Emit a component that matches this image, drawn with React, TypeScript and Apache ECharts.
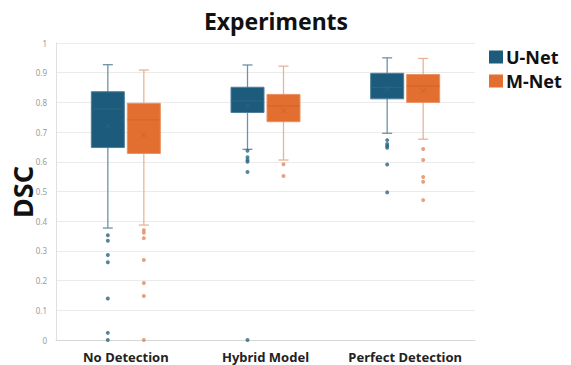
import React, { useEffect, useRef } from "react";
import * as echarts from "echarts";

const categories = ["No Detection", "Hybrid Model", "Perfect Detection"];
const seriesNames = ["U-Net", "M-Net"];

// [low whisker, Q1, median, Q3, high whisker]
const unetBox = [
  [0.377, 0.648, 0.778, 0.836, 0.927],
  [0.642, 0.766, 0.805, 0.851, 0.926],
  [0.696, 0.812, 0.85, 0.898, 0.95],
];
const unetMean = [0.72, 0.789, 0.847];
const mnetBox = [
  [0.387, 0.628, 0.741, 0.797, 0.909],
  [0.606, 0.735, 0.788, 0.827, 0.922],
  [0.676, 0.8, 0.855, 0.894, 0.948],
];
const mnetMean = [0.69, 0.772, 0.839];

const unetOutliers = [
  [0, 0.353], [0, 0.334], [0, 0.286], [0, 0.262], [0, 0.14], [0, 0.024], [0, 0],
  [1, 0.637], [1, 0.615], [1, 0.606], [1, 0.6], [1, 0.566], [1, 0],
  [2, 0.673], [2, 0.66], [2, 0.653], [2, 0.647], [2, 0.591], [2, 0.497],
];
const mnetOutliers = [
  [0, 0.37], [0, 0.361], [0, 0.343], [0, 0.269], [0, 0.192], [0, 0.148], [0, 0],
  [1, 0.592], [1, 0.552],
  [2, 0.643], [2, 0.606], [2, 0.549], [2, 0.533], [2, 0.471],
];

const FONT = "'Noto Sans', 'Open Sans', sans-serif";
const BLUE = "#1d5b7c";
const ORANGE = "#e26f30";

function makeRender(offset: number, fill: string, border: string, whisker: string, median: string) {
  return (params: any, api: any) => {
    const cat = api.value(0);
    const pLow = api.coord([cat, api.value(1)]);
    const pQ1 = api.coord([cat, api.value(2)]);
    const pMed = api.coord([cat, api.value(3)]);
    const pQ3 = api.coord([cat, api.value(4)]);
    const pHigh = api.coord([cat, api.value(5)]);
    const pMean = api.coord([cat, api.value(6)]);
    const x = pLow[0] + offset;
    const bw = 33;
    const cap = 5;
    const m = 2.5;
    return {
      type: "group",
      children: [
        { type: "line", shape: { x1: x, y1: pHigh[1], x2: x, y2: pLow[1] }, style: { stroke: whisker, lineWidth: 1.3 } },
        { type: "line", shape: { x1: x - cap, y1: pHigh[1], x2: x + cap, y2: pHigh[1] }, style: { stroke: whisker, lineWidth: 1.3 } },
        { type: "line", shape: { x1: x - cap, y1: pLow[1], x2: x + cap, y2: pLow[1] }, style: { stroke: whisker, lineWidth: 1.3 } },
        {
          type: "rect",
          shape: { x: x - bw / 2, y: pQ3[1], width: bw, height: pQ1[1] - pQ3[1] },
          style: { fill, stroke: border, lineWidth: 1 },
        },
        { type: "line", shape: { x1: x - bw / 2, y1: pMed[1], x2: x + bw / 2, y2: pMed[1] }, style: { stroke: median, lineWidth: 1 } },
        { type: "line", shape: { x1: x - m, y1: pMean[1] - m, x2: x + m, y2: pMean[1] + m }, style: { stroke: median, lineWidth: 1 } },
        { type: "line", shape: { x1: x - m, y1: pMean[1] + m, x2: x + m, y2: pMean[1] - m }, style: { stroke: median, lineWidth: 1 } },
      ],
    };
  };
}

function buildBoxData(box: number[][], mean: number[]) {
  return box.map((b, i) => [i, ...b, mean[i]]);
}

export default function App() {
  const ref = useRef<HTMLDivElement>(null);
  useEffect(() => {
    if (!ref.current) return;
    const chart = echarts.init(ref.current, null, { renderer: "svg" });
    chart.setOption({
      animation: false,
      backgroundColor: "#ffffff",
      graphic: [
        {
          type: "text",
          x: 276,
          y: 21,
          style: {
            text: "Experiments",
            textAlign: "center",
            textVerticalAlign: "middle",
            font: `bold 23px ${FONT}`,
            fill: "#111",
          },
        },
        {
          type: "text",
          x: 22,
          y: 192,
          rotation: Math.PI / 2,
          style: {
            text: "DSC",
            textAlign: "center",
            textVerticalAlign: "middle",
            font: `bold 27px ${FONT}`,
            fill: "#111",
          },
        },
      ],
      legend: {
        orient: "vertical",
        left: 489,
        top: 48,
        itemWidth: 14,
        itemHeight: 13,
        itemGap: 6,
        padding: 0,
        icon: "rect",
        data: seriesNames,
        textStyle: { fontFamily: FONT, fontWeight: "bold", fontSize: 18, color: "#111", padding: [0, 0, 0, -2] },
      },
      grid: { left: 56, right: 96, top: 43, bottom: 25 },
      xAxis: {
        type: "category",
        data: categories,
        axisLine: { lineStyle: { color: "#d8d8d8" } },
        axisTick: { show: false },
        axisLabel: { interval: 0, fontFamily: FONT, fontWeight: "bold", fontSize: 13, color: "#222", margin: 10 },
      },
      yAxis: {
        type: "value",
        min: 0,
        max: 1,
        interval: 0.1,
        axisLine: { show: true, lineStyle: { color: "#e0e0e0" } },
        axisTick: { show: false },
        splitLine: { lineStyle: { color: "#ebebeb" } },
        axisLabel: {
          fontFamily: FONT,
          fontSize: 8,
          color: "#9a9a9a",
          margin: 9,
          formatter: (v: number) => String(Math.round(v * 10) / 10),
        },
      },
      series: [
        {
          name: "U-Net",
          type: "custom",
          itemStyle: { color: BLUE },
          renderItem: makeRender(-18, BLUE, "#4f7f9b", "#6d93a9", "#2c6585"),
          encode: { x: 0, y: [1, 2, 3, 4, 5, 6] },
          data: buildBoxData(unetBox, unetMean),
          z: 2,
        },
        {
          name: "M-Net",
          type: "custom",
          itemStyle: { color: ORANGE },
          renderItem: makeRender(18, ORANGE, "#eb9262", "#e9b496", "#cf6529"),
          encode: { x: 0, y: [1, 2, 3, 4, 5, 6] },
          data: buildBoxData(mnetBox, mnetMean),
          z: 2,
        },
        {
          name: "U-Net outliers",
          type: "scatter",
          symbolSize: 4,
          symbolOffset: [-18, 0],
          itemStyle: { color: "#2a6683" },
          data: unetOutliers,
          z: 3,
        },
        {
          name: "M-Net outliers",
          type: "scatter",
          symbolSize: 4,
          symbolOffset: [18, 0],
          itemStyle: { color: "#e38a5c" },
          data: mnetOutliers,
          z: 3,
        },
      ],
    });
    return () => chart.dispose();
  }, []);
  return <div ref={ref} style={{ width: 571, height: 365, position: "absolute", left: 0, top: 0 }} />;
}
